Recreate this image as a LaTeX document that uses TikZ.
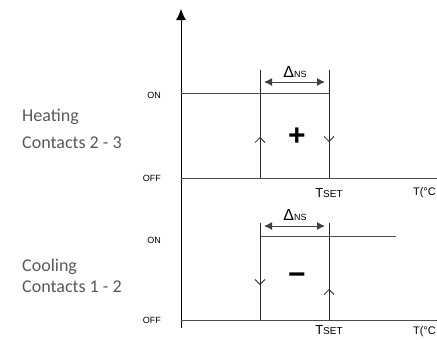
\documentclass[tikz,border=0pt]{standalone}
\usepackage{fontspec}
\setmainfont{Liberation Sans}
\newfontfamily\relayfont{Carlito}
\usetikzlibrary{arrows.meta}
\tikzset{
  curve/.style={line width=0.8pt,black!85},
  level/.style={line width=0.8pt,black!70},
  flip/.style={line width=0.8pt,black!85,-{Straight Barb[length=5pt,width=10pt]}},
  band/.style={line width=1pt,black!75,{Latex[length=8pt,width=8pt]}-{Latex[length=8pt,width=8pt]},shorten <=4pt,shorten >=4pt},
  state/.style={font=\fontsize{9}{10}\selectfont,inner sep=0pt,anchor=east},
  relay/.style={font=\relayfont\fontsize{18}{20}\selectfont,text=black!65,inner sep=0pt,anchor=west},
  sign/.style={font=\bfseries\fontsize{30}{30}\selectfont,inner sep=0pt},
  unit/.style={inner sep=0pt,anchor=east,font=\fontsize{11}{11}\selectfont},
}
\newcommand{\dns}{{\fontsize{16}{16}\selectfont Δ}{\fontsize{9}{9}\selectfont NS}}
\newcommand{\tset}{{\fontsize{13}{13}\selectfont T}{\fontsize{10}{10}\selectfont SET}}

\begin{document}
\begin{tikzpicture}[x=1pt,y=-1pt]
  \useasboundingbox (0,0) rectangle (437,340);
  % temperature axis
  \draw[line width=0.8pt,-{Latex[length=11pt,width=10pt]}] (181,328) -- (181,9);
  % heating, contacts 2 - 3
  \begin{scope}[shift={(0,93)}]
    \draw[level] (181,0) -- (329,0);
    \draw[level] (181,85) -- (437,85);
    \draw[curve] (260,-23) -- (260,85);
    \draw[curve] (329,-23) -- (329,85);
    \draw[band] (260,-11) -- (329,-11);
    \node[inner sep=0pt] (hband) at (295,-21) {\dns};
    \draw[flip] (260,60) -- (260,44);
    \draw[flip] (329,33) -- (329,49);
    \node[sign] (hplus) at (297,44) {+};
    \node[state] (hon) at (161,2) {ON};
    \node[state] (hoff) at (161,85) {OFF};
    \node[relay] (hname) at (22,24) {Heating};
    \node[relay] (hpins) at (22,50) {Contacts 2 - 3};
    \node[inner sep=0pt] (hset) at (329,100) {\tset};
    \node[unit] (hunit) at (436,100) {T(°C};
  \end{scope}
  % cooling, contacts 1 - 2
  \begin{scope}[shift={(0,235)}]
    \draw[level] (260,1) -- (396,1);
    \draw[level] (181,85) -- (437,85);
    \draw[curve] (260,-12) -- (260,85);
    \draw[curve] (329,-12) -- (329,85);
    \draw[band] (260,-9) -- (329,-9);
    \node[inner sep=0pt] (cband) at (295,-20) {\dns};
    \draw[flip] (260,34) -- (260,50);
    \draw[flip] (329,70) -- (329,54);
    \node[sign] (cminus) at (297,44) {−};
    \node[state] (con) at (161,5) {ON};
    \node[state] (coff) at (161,85) {OFF};
    \node[relay] (cname) at (22,32) {Cooling};
    \node[relay] (cpins) at (22,52) {Contacts 1 - 2};
    \node[inner sep=0pt] (cset) at (329,95) {\tset};
    \node[unit] (cunit) at (436,97) {T(°C};
  \end{scope}
\end{tikzpicture}
\end{document}
